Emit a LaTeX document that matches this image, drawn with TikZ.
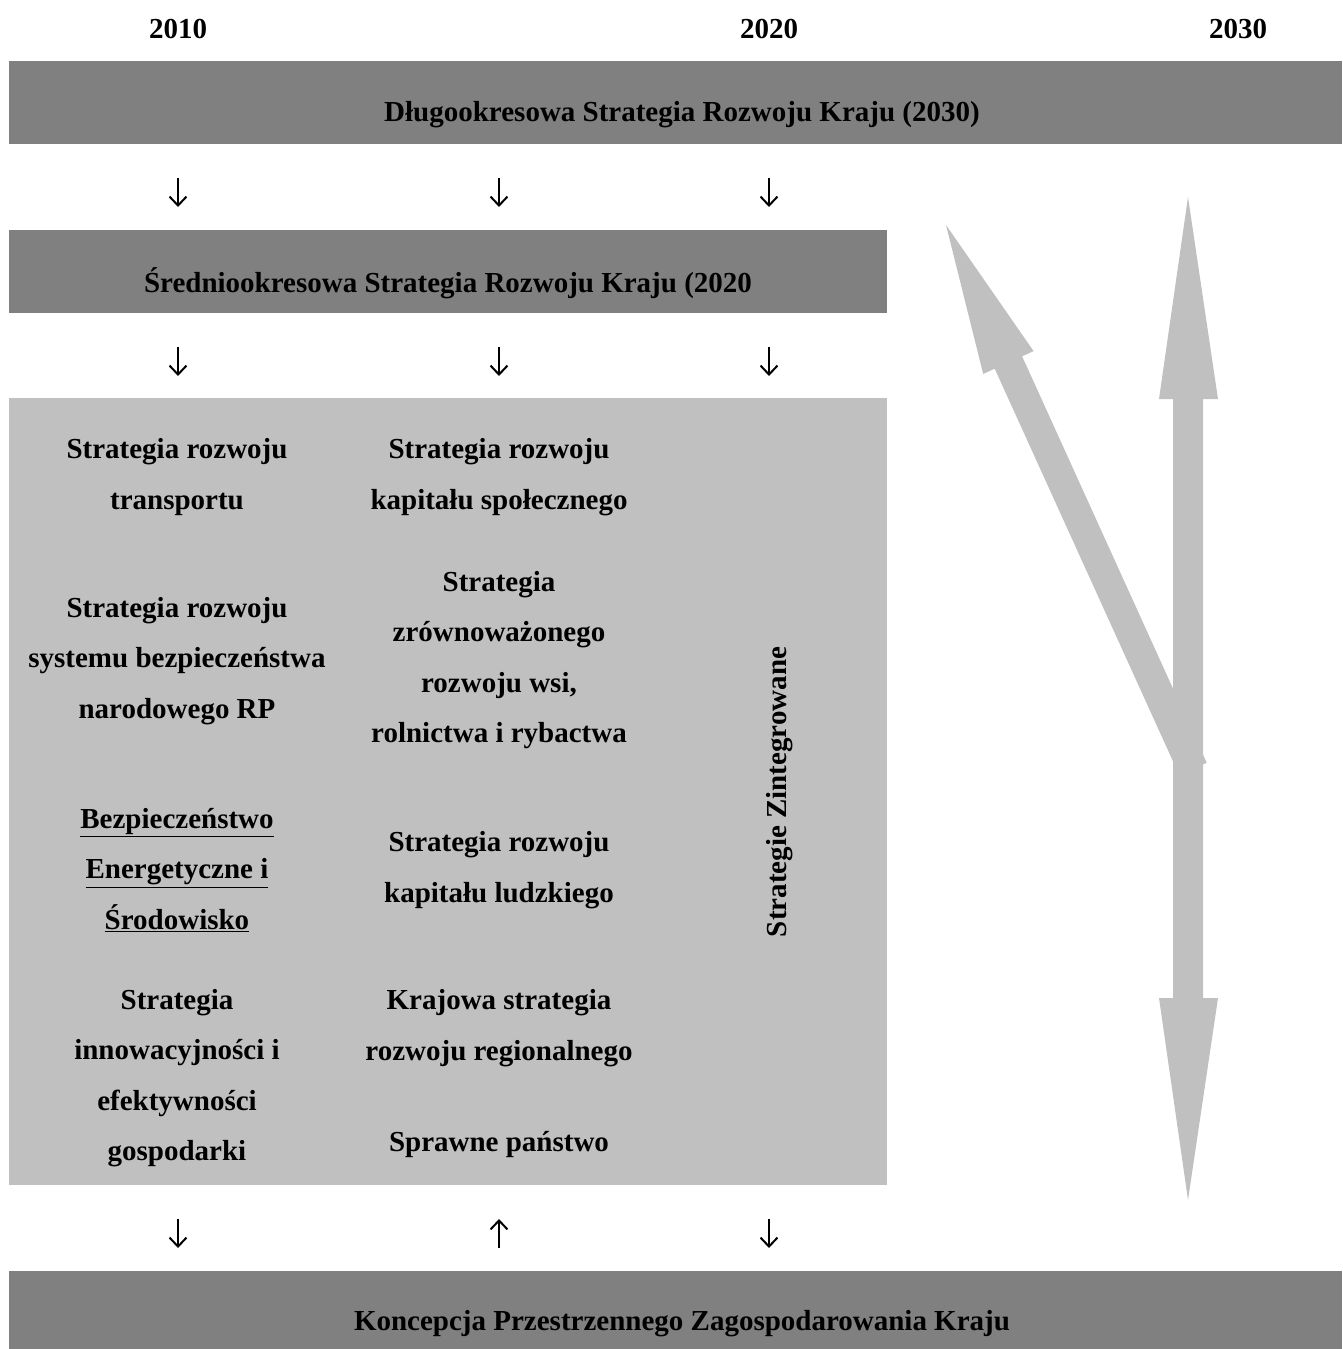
\documentclass[tikz,border=0pt]{standalone}
\usetikzlibrary{arrows.meta}
\usepackage{fontspec}
\setmainfont{Liberation Serif}
\definecolor{darkbar}{HTML}{808080}
\definecolor{lightbox}{HTML}{C0C0C0}
\begin{document}
\begin{tikzpicture}[x=1pt,y=-1pt,
  txt/.style={font=\fontsize{29}{50.5}\selectfont\bfseries, align=center, inner sep=0pt},
  smallarrow/.style={line width=2pt, -{Straight Barb[length=9pt,width=17pt,line width=2pt]}},
  bigarrow/.style={fill=lightbox, draw=none}]
\useasboundingbox (0,0) rectangle (1342,1349);
% bars and box
\fill[darkbar] (9,61) rectangle (1342,144);
\fill[darkbar] (9,230) rectangle (887,313);
\fill[lightbox] (9,398) rectangle (887,1185);
\fill[darkbar] (9,1271) rectangle (1342,1349);
% years
\node[txt] (y2010) at (178,29) {2010};
\node[txt] (y2020) at (769,29) {2020};
\node[txt] (y2030) at (1238,29) {2030};
% bar titles
\node[txt] (dlugo) at (682,115) {Długookresowa Strategia Rozwoju Kraju (2030)};
\node[txt] (srednio) at (448,283) {Średniookresowa Strategia Rozwoju Kraju (2020};
\node[txt] (kpzk) at (682,1324) {Koncepcja Przestrzennego Zagospodarowania Kraju};
% small arrows
\foreach \x/\n in {178/1,499/2,769/3}{
  \coordinate (at\n) at (\x,178);
  \coordinate (ab\n) at (\x,207);
  \draw[smallarrow] (at\n) -- (ab\n);
  \coordinate (bt\n) at (\x,347);
  \coordinate (bb\n) at (\x,376);
  \draw[smallarrow] (bt\n) -- (bb\n);
  \coordinate (ct\n) at (\x,1219);
  \coordinate (cb\n) at (\x,1248);
}
\draw[smallarrow] (ct1) -- (cb1);
\draw[smallarrow] (cb2) -- (ct2);
\draw[smallarrow] (ct3) -- (cb3);
% left column
\node[txt] (l1) at (177,477) {Strategia rozwoju\\transportu};
\node[txt] (l2) at (177,661) {Strategia rozwoju\\systemu bezpieczeństwa\\narodowego RP};
\node[txt] (l3) at (177,870) {\underline{Bezpieczeństwo}\\\underline{Energetyczne i}\\\underline{Środowisko}};
\node[txt] (l4) at (177,1078) {Strategia\\innowacyjności i\\efektywności\\gospodarki};
% middle column
\node[txt] (m1) at (499,477) {Strategia rozwoju\\kapitału społecznego};
\node[txt] (m2) at (499,660) {Strategia\\zrównoważonego\\rozwoju wsi,\\rolnictwa i rybactwa};
\node[txt] (m3) at (499,870) {Strategia rozwoju\\kapitału ludzkiego};
\node[txt] (m4) at (499,1028) {Krajowa strategia\\rozwoju regionalnego};
\node[txt] (m5) at (499,1144) {Sprawne państwo};
% vertical label
\node[txt, rotate=90] (zint) at (780,792) {Strategie Zintegrowane};
% big arrows
\fill[bigarrow] (946,225) -- (1033.6,351.1) -- (1022.1,356.3) -- (1206.7,762.8)
  -- (1179.3,775.2) -- (994.7,368.7) -- (983.2,373.9) -- cycle;
\fill[bigarrow] (1188,197) -- (1218,399) -- (1203,399) -- (1203,998) -- (1218,998)
  -- (1188,1200) -- (1159,998) -- (1173,998) -- (1173,399) -- (1159,399) -- cycle;
\end{tikzpicture}
\end{document}
